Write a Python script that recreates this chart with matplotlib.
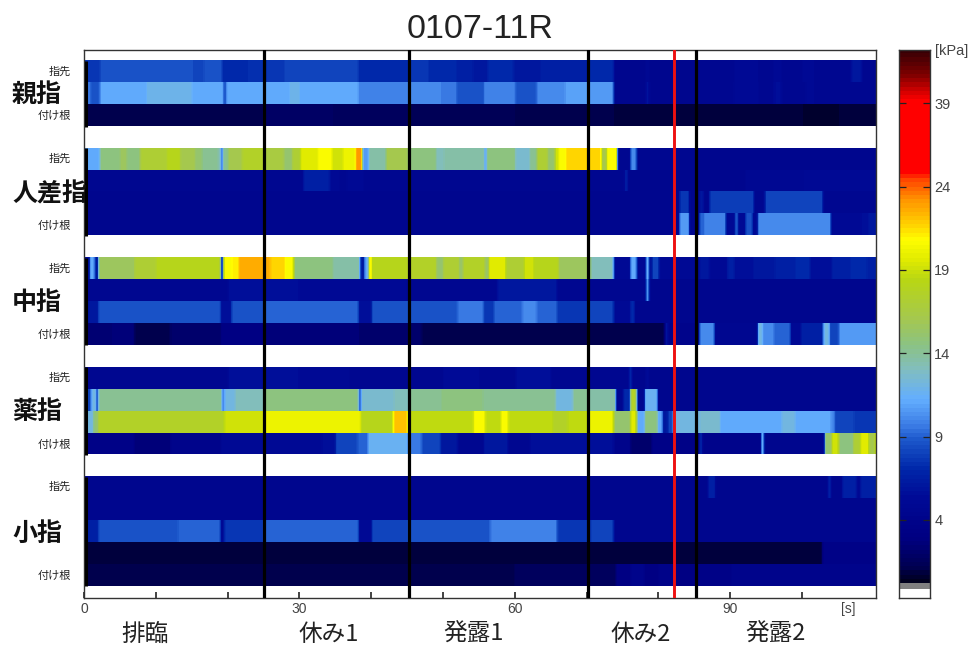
import numpy as np
import matplotlib
matplotlib.use("Agg")
import matplotlib.pyplot as plt
from matplotlib.colors import LinearSegmentedColormap, Normalize

W, H = 972, 646
XMAX = 110.3

# ---- data: each row = list of (start second, kPa-scale value) ----
thumb_tip = [(0,7.5),(2.2,8.5),(7.8,8.6),(15.2,8),(16.6,8.5),(19.2,7),(22.7,7.3),(25.4,7.5),(27.8,8),(38.2,7),(45.2,7.5),(48,7),(51.9,6.5),(54.2,6),(56.1,7),(59.8,6),(63.5,6.7),(70.2,7.2),(73.7,4.3),(78.2,5),(78.6,4.3),(85.6,4.5),(90.5,5.2),(93.7,4.6),(96,5.2),(97,4.6),(100,5.2),(101.5,4.5),(106.7,6),(108.2,4.7)]
thumb_mid = [(0,9.5),(1,8.5),(2.2,11),(8.7,11.8),(15,11),(19.4,8.5),(19.8,11),(25.4,11),(28.6,11.8),(30,11),(38.2,9.8),(45.2,10.2),(49.6,9.5),(51.9,8.5),(55.6,9.8),(60,8.7),(63,10.2),(67,10.8),(70.2,10.5),(73.7,4.3),(78.2,6),(78.6,4.3),(85.6,4.7),(90.5,5.2),(93.7,4.7),(96,5.5),(97,4.7),(100.5,5.2),(101.5,4.6)]
thumb_root = [(0,1.2),(25,1.8),(34.7,1.5),(45.2,1.3),(60,1.1),(73.7,0.8),(85.2,0.9),(100,0.6),(105,0.9)]
index_tip = [(0,11),(2.2,14.5),(5,15.5),(6,14.5),(7.8,17),(11.5,18),(13.4,16),(15.5,15),(16.5,14),(18.7,13.5),(19,9),(19.3,14),(20,16),(22,17.5),(25,16.5),(27.8,15),(29,17),(30.1,19.5),(32.5,20.5),(34.5,19),(36,20),(37.8,23),(38.7,10.5),(39.6,13.5),(42,16),(45,14.5),(49,13),(50,13.5),(55.7,11),(56,14.5),(60,12.5),(62,14),(63,17),(64.5,15),(65.5,19),(66,20.5),(67,21.5),(72,16),(72.7,20.5),(74.2,4.5),(76,10),(76.9,4.5),(85.2,4.4)]
index_b = [(0,4.5),(30.5,6.5),(34.2,5.2),(35.5,4.5),(36.5,5),(39,4.5),(75.2,6.5),(75.6,4.4),(92,4.8),(100,5)]
index_c = [(0,4.3),(82.8,7.5),(84.2,4.4),(85.6,6),(86.2,4.4),(87,7.8),(93.2,4.6),(94.7,8),(102.8,4.5)]
index_d = [(0,4.4),(82.8,10.5),(84.2,4.4),(85.6,9),(86.3,9.8),(89.3,5),(90.5,8.5),(91,5),(92,8.5),(93,5),(93.7,10),(103.9,5),(108,5.5),(109,6)]
middle_tip = [(0,5),(0.8,11),(1.5,6),(2,15.5),(7,17),(10,18),(19,7),(19.4,20.5),(20.5,21),(21.5,22.5),(26,21.5),(28,20.5),(29.2,14.5),(34.7,13.5),(38.4,6),(39,11),(39.6,21),(40,18),(45,17.5),(49,15),(50,17),(52.2,15),(52.7,17.5),(55.8,15),(56.3,19.5),(58.7,17),(61.2,19),(62.6,18),(66,15.5),(70.5,13),(73.7,5),(76,11),(76.9,5),(78.2,12),(78.6,5),(79,8),(80,5),(85.6,6),(87,5.2),(89.5,6.5),(90.5,5.5),(93,6),(96,6.5),(99,7.2),(101,5.5),(104,6.5),(106.5,7),(109,6.5)]
middle_b = [(0,4.5),(20,5.5),(30,5),(45,4.6),(57.5,6),(65.8,4.5),(78.2,11),(78.6,4.4)]
middle_c = [(0,5.5),(0.5,6),(2,8.7),(19,5.5),(20.5,8.5),(25,9),(38.2,5.5),(40,8.5),(49.6,8.7),(52,9.5),(55.6,7.5),(57,9.2),(61,10),(63,9),(65.8,7.5),(70.2,8),(73.7,5),(76,7),(76.6,4.4)]
middle_root = [(0,2.4),(4,2.6),(7,1.2),(12,2),(19,3),(25,2.7),(38.2,2),(47,1),(80.8,6),(81.2,4),(85.6,10),(87.7,4.5),(93.7,12),(94.4,10),(96,9),(98.3,5),(99.7,6.5),(102.8,12),(103.7,8),(105,10.5)]
ring_tip = [(0,4.5),(20,5.5),(30,5),(37,4.5),(50,5.3),(55,4.6),(60,5.5),(65,4.5),(75.8,7),(76.2,4.4),(78.2,5.5),(78.6,4.3)]
ring_b = [(0,8),(1,12),(1.7,8),(2,14),(19.2,9),(19.5,12),(21,13),(25,14.5),(38.2,8),(38.5,12.5),(43,13),(45.2,14),(49.6,14.5),(55.6,14),(65.6,12),(68,14),(70.2,13.5),(74,4.5),(75,7),(76,17.5),(76.9,4.5),(78,11.5),(79.8,4.4)]
ring_c = [(0,12),(1.3,15),(2,17.5),(19.5,19),(25,20),(38.5,18),(43,22),(45,18.5),(54.2,20.5),(55.8,18.5),(58,20.5),(59,18.5),(65.3,17.5),(67.2,18.5),(70.2,20),(73.7,15),(76,19.5),(76.9,11),(78,14.5),(79.8,11),(80.5,6),(81.2,8),(81.9,12),(85.6,12.5),(88.5,11),(97,12),(99,11),(103.9,10),(104.4,8),(107.2,7.5)]
ring_root = [(0,3.5),(7,2.5),(12,4),(19,5),(33,5.5),(35,8),(38,9),(39.5,11.5),(45,9.5),(47,8),(49.6,6),(52,4.5),(55.6,6),(59,4.5),(62,5.5),(73.7,4),(76,2),(79,3.5),(85.6,7),(86,4),(94.2,12),(94.6,4.3),(103,15),(104,19),(105,14.5),(107,17),(108,19.5),(109.2,16),(110,19)]
little_tip = [(0,4.3),(86.8,6.5),(87.8,4.3),(103.5,7),(103.9,4.3),(105.5,6.5),(107.5,4.8),(108,6.5)]
little_b = [(0,4.3),(72,4.4)]
little_c = [(0,6.5),(2,8.5),(13,9),(19,5),(19.5,7.7),(25,9.2),(38.2,5),(40,8),(45,8.7),(56.5,9.8),(65.8,7.5),(70.5,8),(73.7,4.3)]
little_d = [(0,0.9),(94,0.8),(102.7,3.5)]
little_root = [(0,1.2),(60,1.6),(74,3),(76,4),(78,3),(80,3.8),(82,3),(85,3.5),(90,4)]

finger_rows = [
    [thumb_tip, thumb_mid, thumb_root],
    [index_tip, index_b, index_c, index_d],
    [middle_tip, middle_b, middle_c, middle_root],
    [ring_tip, ring_b, ring_c, ring_root],
    [little_tip, little_b, little_c, little_d, little_root],
]
finger_names = ["親指", "人差指", "中指", "薬指", "小指"]
phase_names = ["排臨", "休み1", "発露1", "休み2", "発露2"]
phase_bounds = [25.07, 45.2, 70.2, 85.2]
red_time = 82.2
cbar_positions = [4, 9, 14, 19, 24, 29]
cbar_labels = ["4", "9", "14", "19", "24", "39"]
cmap_stops = [
    (0.21,(0,0,30)),(1,(0,0,80)),(2.8,(0,0,130)),(5.2,(0,10,150)),(7,(0,40,170)),
    (8.8,(30,90,205)),(9.6,(60,125,230)),(11.2,(100,175,255)),(13,(130,190,190)),
    (14.5,(140,195,130)),(16,(165,200,80)),(18.4,(185,215,20)),(19.6,(225,235,0)),
    (20.8,(255,255,0)),(21.7,(255,210,0)),(23.2,(255,150,0)),(24.4,(255,70,0)),
    (24.9,(255,0,0)),(29.2,(255,0,0)),(29.8,(210,0,0)),(30.7,(130,0,0)),(32.2,(55,0,5)),
]

# ---- colormap ----
VMIN, VMAX = cmap_stops[0][0], cmap_stops[-1][0]
cm = LinearSegmentedColormap.from_list(
    "kpa", [((v-VMIN)/(VMAX-VMIN), tuple(c/255 for c in rgb)) for v, rgb in cmap_stops], N=128)
cm.set_bad("white")
norm = Normalize(VMIN, VMAX)

# ---- build matrix (rows slightly softened along time, as in the scanned original) ----
STEP = 0.1
nbins = int(round(XMAX/STEP))
kernel = np.array([1, 2, 3, 2, 1], float)
kernel /= kernel.sum()
grid = []
def expand(row):
    out = np.zeros(nbins)
    for i, (t, v) in enumerate(row):
        end = row[i+1][0] if i+1 < len(row) else XMAX
        out[int(round(t/STEP)):int(round(end/STEP))] = v
    padded = np.pad(out, 2, mode="edge")
    return np.convolve(padded, kernel, mode="valid")
for gi, group in enumerate(finger_rows):
    if gi:
        grid.append(np.full(nbins, np.nan))
    grid.extend(expand(r) for r in group)
grid = np.array(grid)
nrows = grid.shape[0]

fig = plt.figure(figsize=(W/100, H/100), dpi=100, facecolor="white")
def axpx(l, t, r, b):
    return fig.add_axes([l/W, 1-b/H, (r-l)/W, (b-t)/H])
def txt(x, y, s, **kw):
    fig.text(x/W, 1-y/H, s, va="center", **kw)

CJK = ["Noto Sans CJK JP", "DejaVu Sans"]
LAT = "Liberation Sans"
EDGE = "#333333"

ax = axpx(84, 50, 876, 598)
ax.imshow(grid, cmap=cm, norm=norm, aspect="auto", interpolation="nearest",
          extent=(0, XMAX, nrows, 0))
ax.set_xlim(0, XMAX)
ax.set_ylim(24.55, -0.5)
ax.set_yticks([])
ax.set_xticks(np.arange(0, 101, 10))
ax.set_xticklabels(["0", "", "", "30", "", "", "60", "", "", "90", ""],
                   fontsize=10, family=LAT, color="#444444")
ax.tick_params(axis="x", direction="in", length=4, width=1.2, color="#222222", pad=3)
for s in ax.spines.values():
    s.set_color(EDGE)
    s.set_linewidth(1.0)

for t in phase_bounds:
    ax.axvline(t, color="black", lw=2.3, zorder=5)
ax.axvline(red_time, color="#ee1111", lw=2.1, zorder=6)

# left thick bars and finger text
pos = 0
ROW_PX, TOP_PX = 21.875, 61
name_y = [95, 194, 303, 412, 534]
for group, name, ny in zip(finger_rows, finger_names, name_y):
    n = len(group)
    ax.plot([0.25, 0.25], [pos, pos+n], color="black", lw=2.2, zorder=5, solid_capstyle="butt")
    txt(71, TOP_PX+(pos+0.48)*ROW_PX, "指先", family=CJK, fontsize=8, ha="right", color="#222222")
    txt(71, TOP_PX+(pos+n-0.47)*ROW_PX, "付け根", family=CJK, fontsize=8, ha="right", color="#222222")
    txt(12, ny, name, family=CJK, fontsize=18, fontweight="bold", ha="left", color="#111111")
    pos += n + 1

txt(480, 30, "0107-11R", family=LAT, fontsize=24.5, ha="center", color="#222222")
txt(848, 609, "[s]", family=LAT, fontsize=10, ha="center", color="#444444")
for x, s in zip([145, 329, 473, 641, 775], phase_names):
    txt(x, 634.5, s, family=CJK, fontsize=17, ha="center", color="#222222")

# colour bar
cax = axpx(899, 50, 930, 598)
CB_LO = -0.69
gradient = np.linspace(VMAX, VMIN, 256).reshape(-1, 1)
cax.imshow(gradient, cmap=cm, norm=norm, aspect="auto", extent=(0, 1, VMIN, VMAX), interpolation="nearest")
cax.axhspan(-0.15, VMIN, color="#808080", lw=0)
cax.set_xlim(0, 1)
cax.set_ylim(CB_LO, VMAX)
cax.set_xticks([])
cax.set_yticks(cbar_positions)
cax.set_yticklabels(cbar_labels, fontsize=10.5, family=LAT, color="#444444")
cax.tick_params(axis="y", direction="in", length=5, width=0.9, color="#222222", pad=3,
                right=True, left=True, labelright=True, labelleft=False)
for s in cax.spines.values():
    s.set_color(EDGE)
    s.set_linewidth(1.0)
txt(935, 51, "[kPa]", family=LAT, fontsize=10.5, ha="left", color="#444444")

fig.savefig("out.png", dpi=100)
